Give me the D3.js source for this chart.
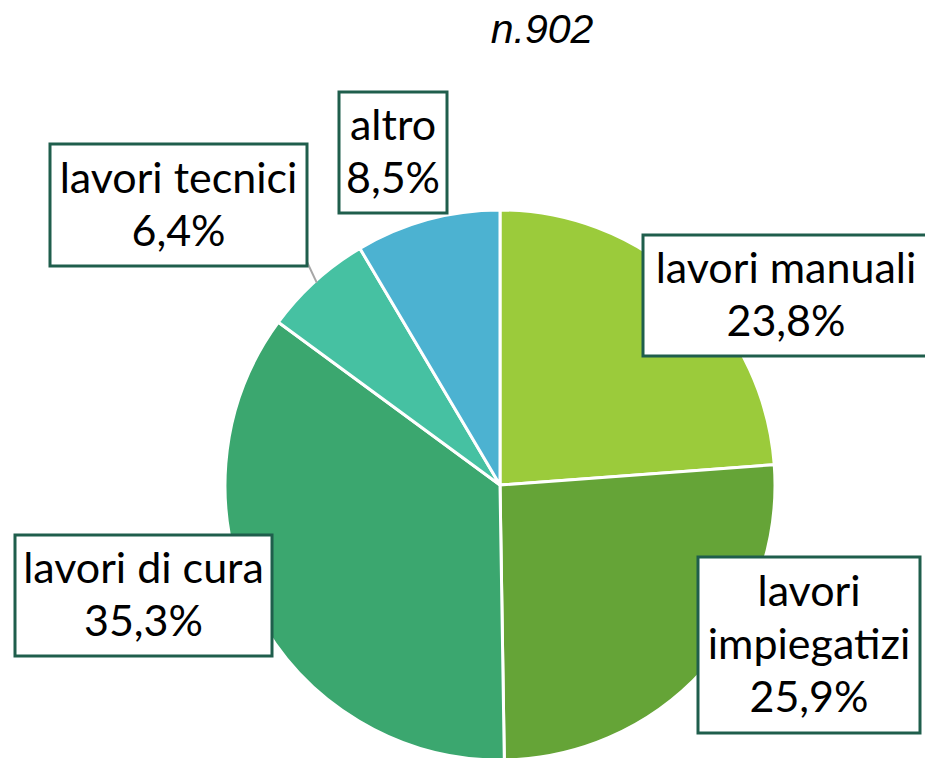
<!DOCTYPE html>
<html lang="it">
  <head>
    <meta charset="utf-8">
    <title>n.902</title>
    <script src="https://d3js.org/d3.v7.js"></script>
    <style>
      body { margin: 0; background: white; }
    </style>
  </head>
  <body>
    <script>
    const w = 925;
    const h = 758;

    // data
    const categories = ["lavori manuali", "lavori impiegatizi", "lavori di cura", "lavori tecnici", "altro"];
    const values = [23.8, 25.9, 35.3, 6.4, 8.5];
    const colors = ["#9BCB3B", "#65A437", "#3BA76F", "#46C1A2", "#4CB2D1"];
    const labelLines = [["lavori manuali"], ["lavori", "impiegatizi"], ["lavori di cura"], ["lavori tecnici"], ["altro"]];

    // label box layout [x, y, width, height]
    const boxes = [
      [643, 235, 290, 121],
      [698, 557, 222, 176],
      [15, 535, 257, 121],
      [50, 144, 257, 122],
      [339, 92, 108, 121]
    ];

    const itFormat = d3.formatLocale({decimal: ",", thousands: ".", grouping: [3], currency: ["", "€"]}).format(".1f");

    const svg = d3.select("body")
      .append("svg")
      .attr("width", w)
      .attr("height", h);

    svg.append("text")
      .attr("x", 542)
      .attr("y", 43)
      .attr("text-anchor", "middle")
      .attr("font-family", "Liberation Sans, Arial, sans-serif")
      .attr("font-style", "italic")
      .attr("font-size", 41)
      .text("n.902");

    const cx = 500, cy = 485, r = 275;

    const pie = d3.pie().sort(null).value(d => d);
    const arc = d3.arc().innerRadius(0).outerRadius(r);
    const arcs = pie(values);

    const g = svg.append("g").attr("transform", `translate(${cx},${cy})`);

    g.selectAll("path")
      .data(arcs)
      .enter()
      .append("path")
      .attr("d", arc)
      .attr("fill", (d, i) => colors[i])
      .attr("stroke", "white")
      .attr("stroke-width", 3)
      .attr("stroke-linejoin", "round");

    // leader line for lavori tecnici
    const tec = arcs[3];
    const midA = (tec.startAngle + tec.endAngle) / 2;
    svg.append("line")
      .attr("x1", 307)
      .attr("y1", 262)
      .attr("x2", cx + Math.sin(midA) * (r - 2))
      .attr("y2", cy - Math.cos(midA) * (r - 2))
      .attr("stroke", "#a6a6a6")
      .attr("stroke-width", 2);

    const lab = svg.selectAll("g.lab")
      .data(categories)
      .enter()
      .append("g")
      .attr("class", "lab");

    lab.append("rect")
      .attr("x", (d, i) => boxes[i][0])
      .attr("y", (d, i) => boxes[i][1])
      .attr("width", (d, i) => boxes[i][2])
      .attr("height", (d, i) => boxes[i][3])
      .attr("fill", "white")
      .attr("stroke", "#1F5E4C")
      .attr("stroke-width", 3);

    const lineH = 53;
    lab.each(function (d, i) {
      const lines = labelLines[i].concat([itFormat(values[i]) + "%"]);
      const b = boxes[i];
      const ycTop = b[1] + b[3] / 2 - (lines.length - 1) * lineH / 2;
      d3.select(this).selectAll("text")
        .data(lines)
        .enter()
        .append("text")
        .attr("x", i === 0 ? 786 : (b[0] + b[2] / 2))
        .attr("y", (t, j) => ycTop + j * lineH + 14)
        .attr("text-anchor", "middle")
        .attr("font-family", "Lato, Open Sans, sans-serif")
        .attr("font-size", 43)
        .attr("fill", "black")
        .text(t => t);
    });
    </script>
  </body>
</html>
